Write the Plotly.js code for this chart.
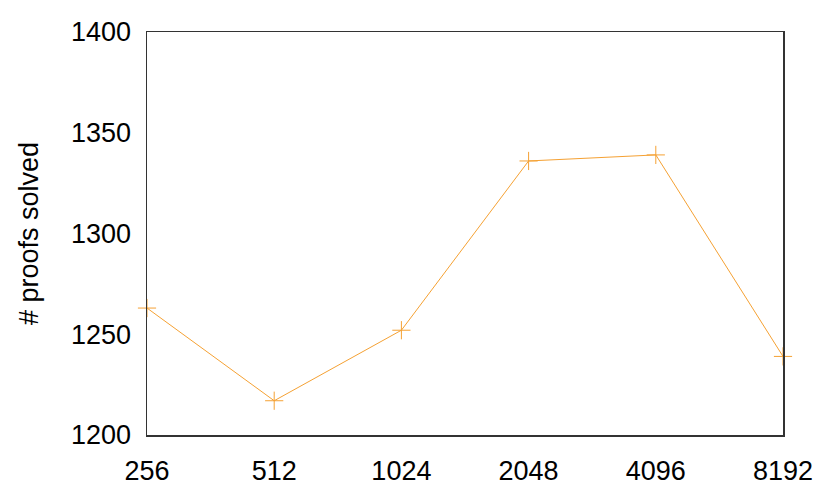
<!DOCTYPE html>
<html>
<head>
<meta charset="utf-8">
<script src="https://cdn.plot.ly/plotly-3.0.1.min.js"></script>
<style>html,body{margin:0;padding:0;background:#fff;}</style>
</head>
<body>
<div id="chart" style="width:830px;height:498px;"></div>
<script>
const categories = ["256", "512", "1024", "2048", "4096", "8192"];
const proofsSolved = [1263, 1217, 1252, 1336, 1339, 1239];
const yTicks = [1200, 1250, 1300, 1350, 1400];

const trace = {
  x: categories,
  y: proofsSolved,
  type: 'scatter',
  mode: 'lines+markers',
  cliponaxis: false,
  line: {color: '#f5a133', width: 1},
  marker: {symbol: 'cross-thin-open', size: 13, color: '#f5a133', line: {color: '#f5a133', width: 1}},
  showlegend: false
};

const layout = {
  width: 830, height: 498,
  margin: {l: 147, r: 47, t: 32, b: 63},
  paper_bgcolor: '#fff', plot_bgcolor: '#fff',
  font: {family: '"Liberation Sans", Arial, sans-serif', size: 27, color: '#000'},
  xaxis: {
    type: 'category', range: [0, 5],
    showgrid: false, zeroline: false,
    showline: true, mirror: true, linecolor: '#333', linewidth: 1.5,
    ticks: 'outside', ticklen: 11, tickcolor: 'rgba(0,0,0,0)',
    tickfont: {size: 27}, automargin: false
  },
  yaxis: {
    range: [1200, 1400], tickvals: yTicks,
    showgrid: false, zeroline: false,
    showline: true, mirror: true, linecolor: '#333', linewidth: 1.5,
    ticks: 'outside', ticklen: 9, tickcolor: 'rgba(0,0,0,0)',
    tickfont: {size: 27}, automargin: false,
    title: {text: '# proofs solved', font: {size: 27}, standoff: 24}
  }
};

Plotly.newPlot('chart', [trace], layout, {displayModeBar: false, staticPlot: true});
</script>
</body>
</html>
